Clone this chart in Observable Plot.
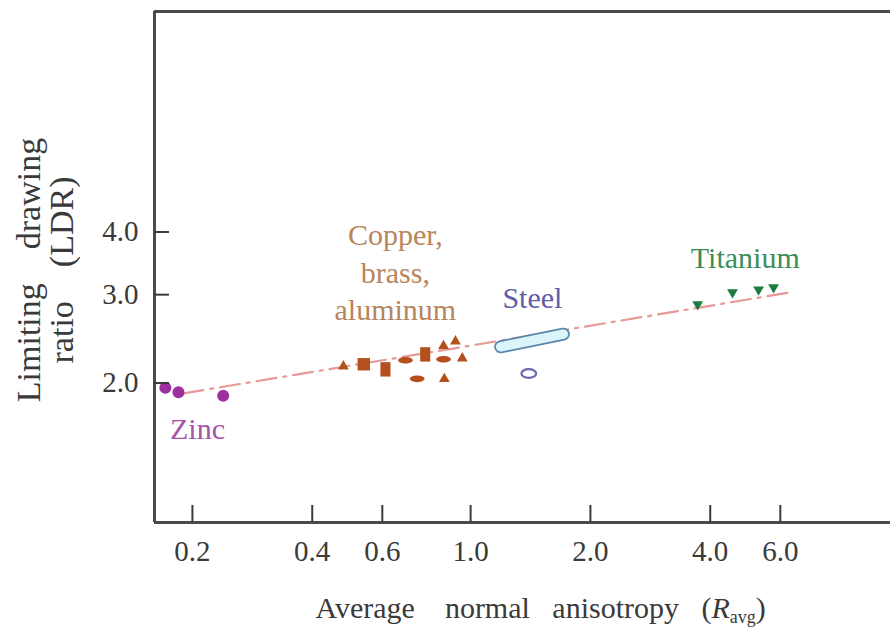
<!DOCTYPE html>
<html><head><meta charset="utf-8">
<script src="https://cdn.jsdelivr.net/npm/d3@7"></script>
<script src="https://cdn.jsdelivr.net/npm/@observablehq/plot@0.6"></script>
<style>html,body{margin:0;padding:0;background:#fff;overflow:hidden}</style>
</head><body><div id="chart"></div>
<script>
// ---- data ----
const xTicks = [0.2, 0.4, 0.6, 1.0, 2.0, 4.0, 6.0];
const yTicks = [2.0, 3.0, 4.0];
const xDomain = [0.1606, 11.35];
const yDomain = [1.045, 10.9];

const zincX = [0.171, 0.1845, 0.239];
const zincY = [1.94, 1.90, 1.87];

const copperX = [0.479, 0.539, 0.611, 0.686, 0.769, 0.855, 0.916, 0.855, 0.953, 0.734, 0.859];
const copperY = [2.14, 2.16, 2.11, 2.20, 2.26, 2.35, 2.40, 2.21, 2.22, 2.02, 2.02];
const copperShape = ["triangle", "square", "rect", "ellipse", "rect", "triangle", "triangle", "ellipse", "triangle", "ellipse", "triangle"];

const steelBarX = [1.19, 1.71];
const steelBarY = [2.34, 2.48];
const steelOvalX = [1.40];
const steelOvalY = [2.07];

const titaniumX = [3.72, 4.55, 5.29, 5.77];
const titaniumY = [2.83, 2.99, 3.03, 3.06];

const trendX = [0.19, 6.3];
const trendY = [1.89, 3.0];

const labelText = ["Zinc", "Copper,\nbrass,\naluminum", "Steel", "Titanium"];
const labelX = [0.206, 0.647, 1.43, 4.90];
const labelY = [1.62, 3.32, 2.95, 3.55];
const labelColor = ["#a455aa", "#b8845c", "#5e5eaa", "#3a8d56"];

// ---- tables ----
const zip = (xs, ys, extra = {}) => xs.map((x, i) => {
  const o = {x, y: ys[i]};
  for (const k in extra) o[k] = extra[k][i];
  return o;
});
const zinc = zip(zincX, zincY);
const copper = zip(copperX, copperY, {shape: copperShape});
const steelBar = zip(steelBarX, steelBarY);
const steelOval = zip(steelOvalX, steelOvalY);
const titanium = zip(titaniumX, titaniumY);
const trend = zip(trendX, trendY);
const labels = zip(labelX, labelY, {text: labelText, color: labelColor});

// ---- custom symbols ----
const K = 0.5522847;
function ellipsePath(ctx, rx, ry) {
  ctx.moveTo(rx, 0);
  ctx.bezierCurveTo(rx, ry * K, rx * K, ry, 0, ry);
  ctx.bezierCurveTo(-rx * K, ry, -rx, ry * K, -rx, 0);
  ctx.bezierCurveTo(-rx, -ry * K, -rx * K, -ry, 0, -ry);
  ctx.bezierCurveTo(rx * K, -ry, rx, -ry * K, rx, 0);
  ctx.closePath();
}
const ellipseSymbol = {draw(ctx, size) { const r = Math.sqrt(size / Math.PI); ellipsePath(ctx, r * 1.6, r * 0.72); }};
const ovalSymbol = {draw(ctx, size) { const r = Math.sqrt(size / Math.PI); ellipsePath(ctx, r * 1.6, r * 0.95); }};
const rectSymbol = {draw(ctx, size) { const r = Math.sqrt(size / Math.PI); ctx.rect(-r * 0.7, -r, r * 1.4, r * 2); }};
const downTriangle = {draw(ctx, size) {
  const r = Math.sqrt(size / Math.PI);
  ctx.moveTo(-r * 1.2, -r * 0.9); ctx.lineTo(r * 1.2, -r * 0.9); ctx.lineTo(0, r * 1.15); ctx.closePath();
}};

const copperColor = "#b4501e";
const axisColor = "#3a3a3a";
const byShape = s => copper.filter(d => d.shape === s);

const chart = Plot.plot({
  width: 890,
  height: 635,
  marginLeft: 154,
  marginRight: 0,
  marginTop: 11,
  marginBottom: 113,
  style: {fontFamily: "'Liberation Serif', 'Times New Roman', serif", fontSize: "29px", color: axisColor, background: "#fff"},
  x: {type: "log", domain: xDomain, axis: null},
  y: {type: "log", domain: yDomain, axis: null},
  marks: [
    Plot.line(trend, {x: "x", y: "y", stroke: "#e59a95", strokeWidth: 2.2, strokeDasharray: "20,7,3,7"}),
    // steel capsule
    Plot.line(steelBar, {x: "x", y: "y", stroke: "#5a86ad", strokeWidth: 13, strokeLinecap: "round"}),
    Plot.line(steelBar, {x: "x", y: "y", stroke: "#dcf5fb", strokeWidth: 9.5, strokeLinecap: "round"}),
    Plot.dot(steelOval, {x: "x", y: "y", symbol: ovalSymbol, r: 4.6, fill: "#fff", stroke: "#6a6aae", strokeWidth: 2.2}),
    // zinc
    Plot.dot(zinc, {x: "x", y: "y", r: 6, fill: "#9d2f9f"}),
    // copper group
    Plot.dot(byShape("triangle"), {x: "x", y: "y", symbol: "triangle", r: 4, fill: copperColor}),
    Plot.dot(byShape("square"), {x: "x", y: "y", symbol: "square", r: 7, fill: copperColor}),
    Plot.dot(byShape("rect"), {x: "x", y: "y", symbol: rectSymbol, r: 7.2, fill: copperColor}),
    Plot.dot(byShape("ellipse"), {x: "x", y: "y", symbol: ellipseSymbol, r: 4.6, fill: copperColor}),
    // titanium
    Plot.dot(titanium, {x: "x", y: "y", symbol: downTriangle, r: 4.5, fill: "#1f7a40"}),
    // annotations
    Plot.text(labels, {x: "x", y: "y", text: "text", fill: "color", fontSize: 30, lineHeight: 1.25, textAnchor: "middle"}),
    // frame (left, top, bottom)
    Plot.ruleX([xDomain[0]], {stroke: "#4a4a4a", strokeWidth: 3}),
    Plot.ruleY(yDomain, {stroke: "#4a4a4a", strokeWidth: 3}),
    // y axis: inward ticks + labels
    Plot.axisY(yTicks, {anchor: "left", tickSize: -15, tickPadding: 31, dy: 2, strokeWidth: 2, tickFormat: d => d.toFixed(1), fontSize: 29, label: null}),
    // x axis: inward ticks only, labels as text
    Plot.axisX(xTicks, {anchor: "bottom", tickSize: -17, strokeWidth: 2, fill: "none", stroke: axisColor, label: null}),
    Plot.text(xTicks, {x: d => d, text: d => d.toFixed(1), frameAnchor: "bottom", lineAnchor: "top", dy: 18, fontSize: 29, fill: axisColor}),
    // axis titles
    Plot.text(["Average normal anisotropy (Ravg)"], {frameAnchor: "bottom-left", dx: 161, dy: 95, textAnchor: "start", lineAnchor: "bottom", fontSize: 30, fill: axisColor}),
    Plot.text(["Limiting\u00a0\u00a0\u00a0\u00a0drawing\nratio\u00a0\u00a0\u00a0\u00a0(LDR)"], {frameAnchor: "left", rotate: -90, dx: -82, dy: 3, lineAnchor: "bottom", lineHeight: 0.95, fontSize: 34, textAnchor: "middle", fill: axisColor})
  ]
});

// rich formatting for the x-axis title (italic R, subscript avg)
d3.select(chart).selectAll("text").filter(function () { return this.textContent.startsWith("Average"); }).each(function () {
  const t = d3.select(this);
  t.text(null);
  t.append("tspan").text("Average\u00a0\u00a0\u00a0\u00a0normal\u00a0\u00a0\u00a0anisotropy\u00a0\u00a0\u00a0(");
  t.append("tspan").attr("font-style", "italic").text("R");
  t.append("tspan").attr("font-size", "18px").attr("dy", "5").text("avg");
  t.append("tspan").attr("dy", "-5").text(")");
});

document.getElementById("chart").appendChild(chart);
</script>
</body></html>
